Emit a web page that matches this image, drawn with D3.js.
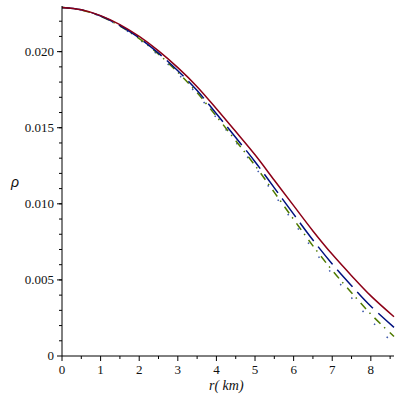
<!DOCTYPE html>
<html>
<head>
<meta charset="utf-8">
<script src="https://cdn.jsdelivr.net/npm/d3@7"></script>
<style>
  body { margin: 0; background: #fff; }
</style>
</head>
<body>
<svg id="chart" width="400" height="400"></svg>
<script>
// radius in km
const radius = [0, 0.5, 1, 1.5, 2, 2.5, 3, 3.5, 4, 4.5, 5, 5.5, 6, 6.5, 7, 7.5, 8, 8.6];

// density curves
const rhoSolid = [0.02290, 0.02275, 0.02237, 0.02178, 0.02100, 0.02005, 0.01895, 0.01770, 0.01625,
  0.01475, 0.01322, 0.01155, 0.00988, 0.00822, 0.00668, 0.00528, 0.00395, 0.00258];
const rhoDash = [0.02290, 0.02275, 0.02234, 0.02172, 0.02090, 0.01990, 0.01875, 0.01744, 0.01592,
  0.01436, 0.01277, 0.01105, 0.00932, 0.00762, 0.00605, 0.00462, 0.00327, 0.00188];
const rhoDashDot = [0.02290, 0.02274, 0.02232, 0.02168, 0.02085, 0.01983, 0.01865, 0.01730, 0.01575,
  0.01415, 0.01252, 0.01075, 0.00898, 0.00724, 0.00563, 0.00416, 0.00275, 0.00128];
const rhoDot = [0.02290, 0.02274, 0.02232, 0.02166, 0.02080, 0.01975, 0.01855, 0.01720, 0.01565,
  0.01405, 0.01242, 0.01060, 0.00878, 0.00702, 0.00538, 0.00383, 0.00235, 0.00078];

const xTicks = [0, 1, 2, 3, 4, 5, 6, 7, 8];
const yTicks = [0, 0.005, 0.010, 0.015, 0.020];
const yTickLabels = ["0", "0.005", "0.010", "0.015", "0.020"];

const serif = "'Liberation Serif', 'Times New Roman', serif";
const svg = d3.select("#chart");

const x = d3.scaleLinear().domain([0, 8.6]).range([62, 394]);
const y = d3.scaleLinear().domain([0, 0.023]).range([356, 6]);

const series = [
  { values: rhoSolid, color: "#8c0016", dash: null },
  { values: rhoDash, color: "#00107f", dash: "23,7" },
  { values: rhoDashDot, color: "#4f7a00", dash: "8,5,1.5,6" },
  { values: rhoDot, color: "#3a55a8", dash: "1.5,16" }
];

const line = d3.line()
  .x((d) => x(d[0]))
  .y((d) => y(d[1]))
  .curve(d3.curveCatmullRom.alpha(0.5));

// curves (drawn bottom first so the solid one sits on top)
svg.append("g")
  .selectAll("path")
  .data(series.slice().reverse())
  .join("path")
  .attr("d", (s) => line(radius.map((r, i) => [r, s.values[i]])))
  .attr("fill", "none")
  .attr("stroke", (s) => s.color)
  .attr("stroke-width", 1.5)
  .attr("stroke-dasharray", (s) => s.dash);

// x axis
const xAxis = svg.append("g").attr("transform", `translate(0,${y(0)})`);
xAxis.append("line")
  .attr("x1", x(0)).attr("x2", x(8.6))
  .attr("stroke", "#000");
xAxis.selectAll("line.minor")
  .data(d3.range(0.5, 8.6, 1))
  .join("line")
  .attr("class", "minor")
  .attr("x1", (d) => x(d)).attr("x2", (d) => x(d))
  .attr("y1", 0).attr("y2", 3)
  .attr("stroke", "#000");
xAxis.selectAll("line.major")
  .data(xTicks)
  .join("line")
  .attr("class", "major")
  .attr("x1", (d) => x(d)).attr("x2", (d) => x(d))
  .attr("y1", 0).attr("y2", 5)
  .attr("stroke", "#000");
xAxis.selectAll("text")
  .data(xTicks)
  .join("text")
  .attr("x", (d) => x(d))
  .attr("y", 18)
  .attr("text-anchor", "middle")
  .attr("font-family", serif)
  .attr("font-size", 13)
  .attr("fill", "#111")
  .text((d) => d);

// y axis
const yAxis = svg.append("g").attr("transform", `translate(${x(0)},0)`);
yAxis.append("line")
  .attr("y1", y(0)).attr("y2", y(0.023))
  .attr("stroke", "#000");
yAxis.selectAll("line.minor")
  .data(d3.range(1, 23).map((k) => k * 0.001))
  .join("line")
  .attr("class", "minor")
  .attr("y1", (d) => y(d)).attr("y2", (d) => y(d))
  .attr("x1", 0).attr("x2", -3)
  .attr("stroke", "#000");
yAxis.selectAll("line.major")
  .data(yTicks)
  .join("line")
  .attr("class", "major")
  .attr("y1", (d) => y(d)).attr("y2", (d) => y(d))
  .attr("x1", 0).attr("x2", -5)
  .attr("stroke", "#000");
yAxis.selectAll("text")
  .data(yTicks)
  .join("text")
  .attr("x", -8)
  .attr("y", (d) => y(d) + 4)
  .attr("text-anchor", "end")
  .attr("font-family", serif)
  .attr("font-size", 13)
  .attr("fill", "#111")
  .text((d, i) => yTickLabels[i]);

// axis titles
svg.append("text")
  .attr("x", 15)
  .attr("y", 187)
  .attr("text-anchor", "middle")
  .attr("font-size", 14)
  .attr("font-style", "italic")
  .attr("font-family", "'Liberation Sans', Arial, sans-serif")
  .attr("fill", "#111")
  .text("ρ");

svg.append("text")
  .attr("x", 209)
  .attr("y", 390)
  .attr("font-size", 14)
  .attr("font-style", "italic")
  .attr("font-family", serif)
  .attr("fill", "#111")
  .text("r( km)");
</script>
</body>
</html>
